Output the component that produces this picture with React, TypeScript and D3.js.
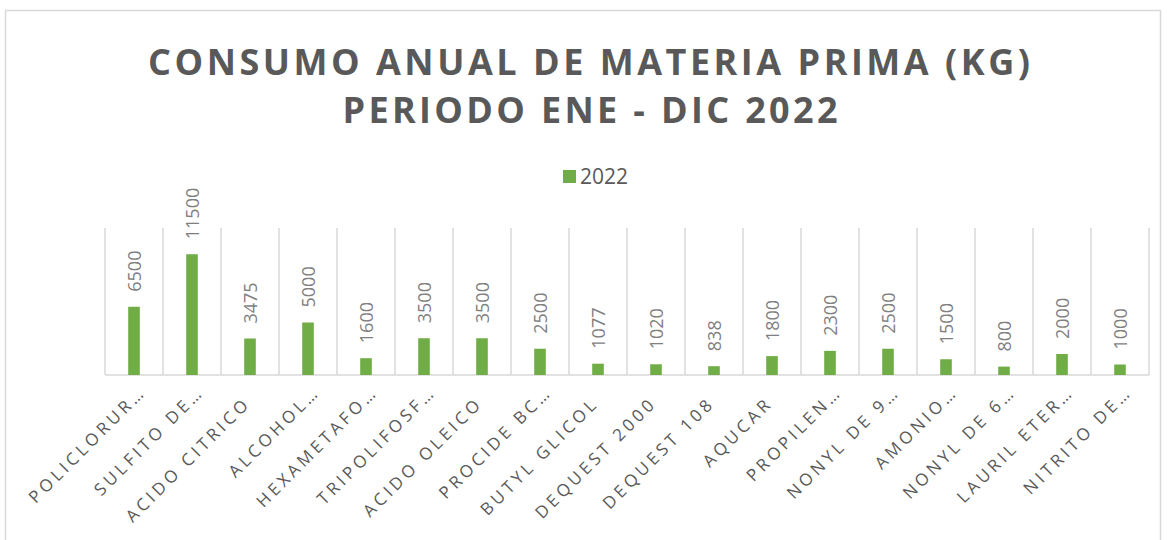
import React from "react";
import * as d3 from "d3";

// etiquetas tal como las recorta Excel
const categorias = [
  "POLICLORUR…",
  "SULFITO DE…",
  "ACIDO CITRICO",
  "ALCOHOL…",
  "HEXAMETAFO…",
  "TRIPOLIFOSF…",
  "ACIDO OLEICO",
  "PROCIDE BC…",
  "BUTYL GLICOL",
  "DEQUEST 2000",
  "DEQUEST 108",
  "AQUCAR",
  "PROPILEN…",
  "NONYL DE 9…",
  "AMONIO…",
  "NONYL DE 6…",
  "LAURIL ETER…",
  "NITRITO DE…",
];
const consumo2022 = [6500, 11500, 3475, 5000, 1600, 3500, 3500, 2500, 1077, 1020, 838, 1800, 2300, 2500, 1500, 800, 2000, 1000];
const serie = "2022";
const titulo = ["CONSUMO ANUAL DE MATERIA PRIMA (KG)", "PERIODO ENE - DIC 2022"];
const yMax = 14000;

const W = 1169;
const H = 540;
const verde = "#70ad47";
const gris = "#595959";
const linea = "#d9d9d9";

const App = () => {
  const x = d3.scaleBand<string>().domain(categorias).range([105, 1149]).padding(0);
  const y = d3.scaleLinear().domain([0, yMax]).range([375, 228]);
  const barW = x.bandwidth() * 0.2;
  const font = "'Open Sans', 'DejaVu Sans', sans-serif";

  return (
    <div style={{ position: "absolute", left: 0, top: 0 }}>
      <svg width={W} height={H} style={{ display: "block", background: "#fff" }}>
        {/* borde del grafico */}
        <rect x={5.5} y={10.5} width={1155} height={600} fill="#fff" stroke={linea} strokeWidth={1.5} />

        {/* titulo */}
        <text x={589} y={75} textAnchor="middle" fontFamily={font} fontWeight={700} fontSize={36} fill={gris}
          textLength={882} lengthAdjust="spacing">
          {titulo[0]}
        </text>
        <text x={590} y={123} textAnchor="middle" fontFamily={font} fontWeight={700} fontSize={36} fill={gris}
          textLength={495} lengthAdjust="spacing">
          {titulo[1]}
        </text>

        {/* leyenda */}
        <rect x={563} y={170} width={13} height={13} fill={verde} />
        <text x={580} y={184} fontFamily={font} fontSize={21} fill={gris}>{serie}</text>

        {/* lineas verticales entre categorias */}
        {[...categorias.map((c) => x(c) as number), 1149].map((gx, i) => (
          <line key={"g" + i} x1={gx} x2={gx} y1={y(yMax)} y2={y(0)} stroke={linea} strokeWidth={1.5} />
        ))}
        <line x1={105} x2={1149} y1={y(0)} y2={y(0)} stroke={linea} strokeWidth={1.5} />

        {/* barras y etiquetas de datos */}
        {consumo2022.map((v, i) => {
          const cx = (x(categorias[i]) as number) + x.bandwidth() / 2;
          return (
            <g key={"b" + i}>
              <rect x={cx - barW / 2} y={y(v)} width={barW} height={y(0) - y(v)} fill={verde} />
              <text transform={`translate(${cx + 7},${y(v) - 15}) rotate(-90)`} fontFamily={font} fontSize={18}
                fill="#7f7f7f">
                {v}
              </text>
            </g>
          );
        })}

        {/* etiquetas del eje x */}
        {categorias.map((c) => {
          const cx = (x(c) as number) + x.bandwidth() / 2;
          const shift = c.endsWith("…") ? 0 : 16;
          return (
            <text key={c} transform={`translate(${cx + 13},${y(0) + 18}) rotate(-45)`} x={-shift} textAnchor="end"
              fontFamily={font} fontSize={17} letterSpacing={3.7} fill={gris}>
              {c}
            </text>
          );
        })}
      </svg>
    </div>
  );
};

export default App;
